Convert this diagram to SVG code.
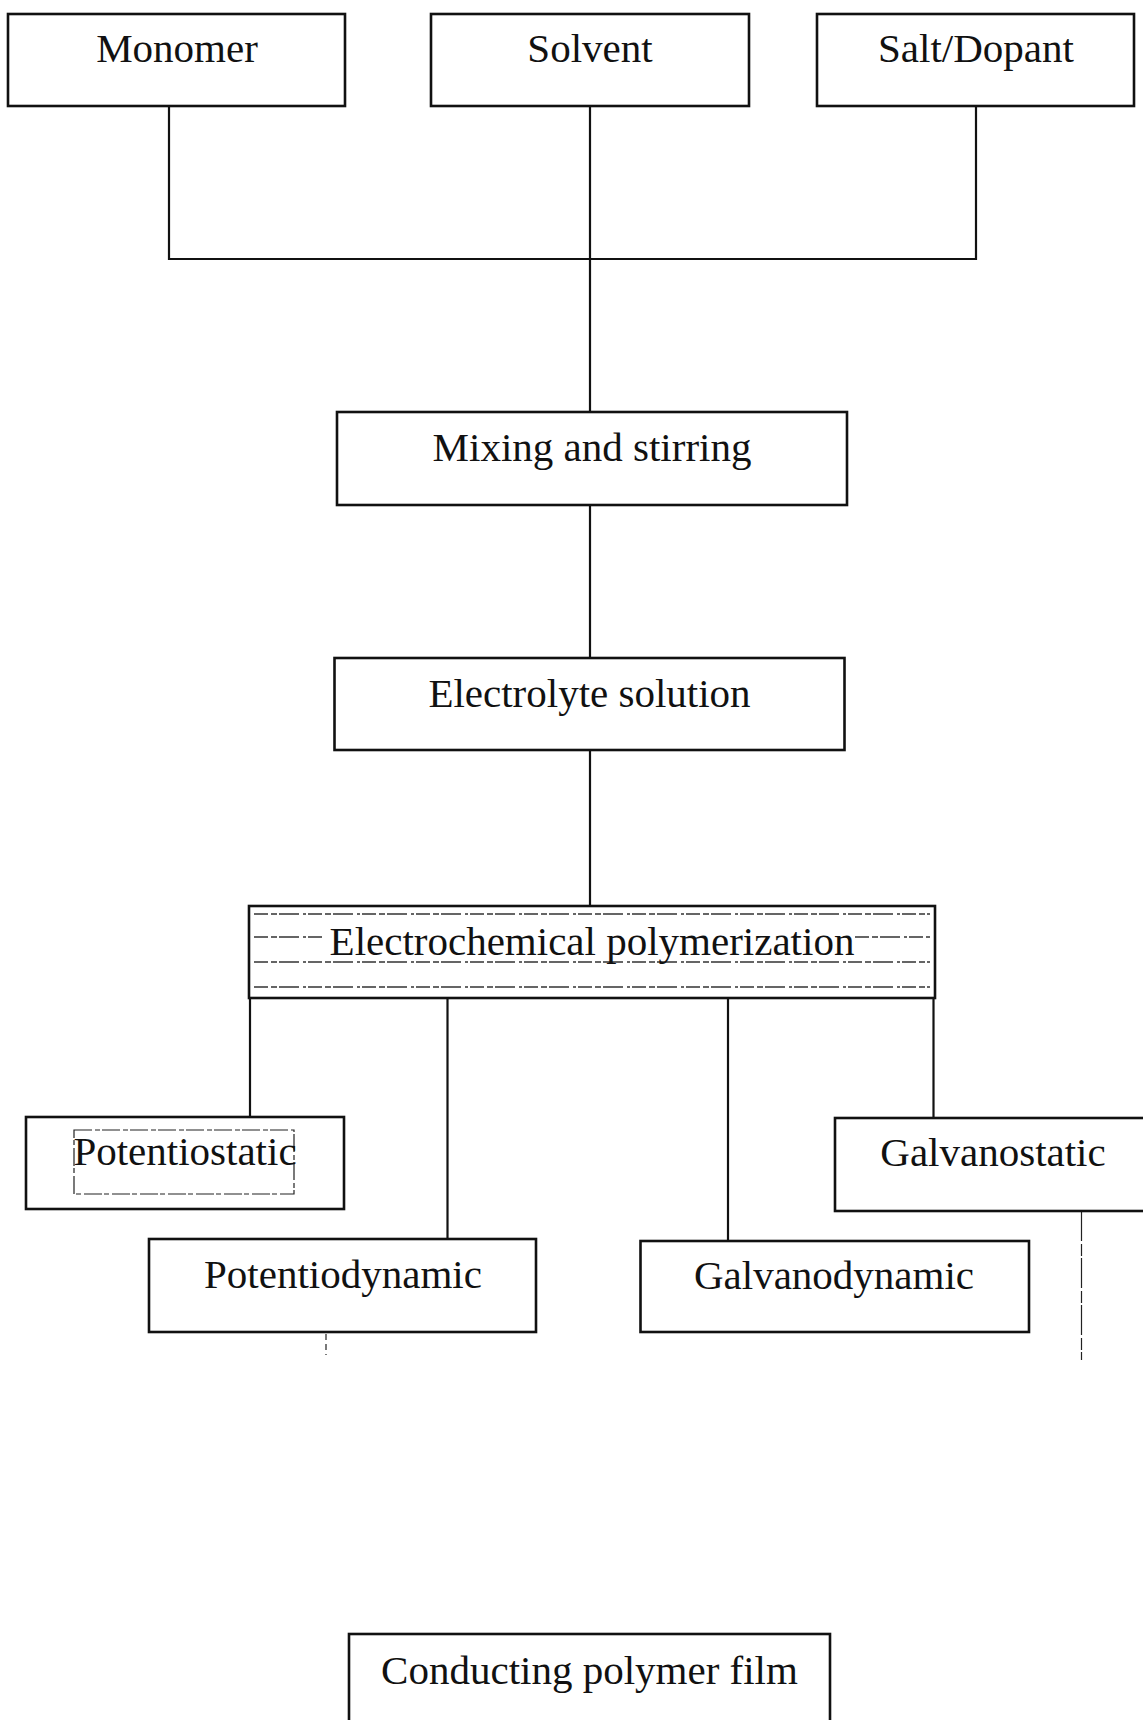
<svg xmlns="http://www.w3.org/2000/svg" width="1143" height="1720" viewBox="0 0 1143 1720">
<style>
.box{fill:#fff;stroke:#111;stroke-width:2.6}
.lbl{font-family:"Liberation Serif","Times New Roman",serif;font-size:41px;fill:#111;text-anchor:middle}
.wire{fill:none;stroke:#111;stroke-width:2.2}
.faint{fill:none;stroke:#222;stroke-width:1.2}
.noise{fill:none;stroke:#333;stroke-width:1.6;stroke-dasharray:14 3 6 2 20 4 3 2}
</style>
<rect width="1143" height="1720" fill="#fff"/>
<g id="connectors">
<path class="wire" d="M169,106 V259 H976 V106"/>
<path class="wire" d="M590,106 V412"/>
<path class="wire" d="M590,505 V658"/>
<path class="wire" d="M590,750 V906"/>
<path class="wire" d="M250,998 V1117"/>
<path class="wire" d="M447.5,998 V1239"/>
<path class="wire" d="M728,998 V1241"/>
<path class="wire" d="M933.5,998 V1118"/>
<path class="faint" d="M326,1334 V1355" stroke-dasharray="6 4"/>
<path class="faint" d="M1081.5,1211 V1360" stroke-dasharray="30 3 12 2"/>
</g>
<g id="monomer"><rect class="box" x="8" y="14" width="337" height="92"/><text class="lbl" x="177" y="62">Monomer</text></g>
<g id="solvent"><rect class="box" x="431" y="14" width="318" height="92"/><text class="lbl" x="590" y="62">Solvent</text></g>
<g id="salt"><rect class="box" x="817" y="14" width="317" height="92"/><text class="lbl" x="976" y="62">Salt/Dopant</text></g>
<g id="mixing"><rect class="box" x="337" y="412" width="510" height="93"/><text class="lbl" x="592" y="461">Mixing and stirring</text></g>
<g id="electrolyte"><rect class="box" x="334.5" y="658" width="510" height="92"/><text class="lbl" x="589.5" y="707">Electrolyte solution</text></g>
<g id="electrochemical"><rect class="box" x="249" y="906" width="686" height="92"/>
<path class="noise" d="M254,914 H930 M254,937 H325 M855,937 H930 M254,962 H930 M254,987 H930"/>
<text class="lbl" x="592" y="955">Electrochemical polymerization</text></g>
<g id="potentiostatic"><rect class="box" x="26" y="1117" width="318" height="92"/><rect class="faint" x="74" y="1130" width="220" height="64" stroke-dasharray="18 3 5 2"/><text class="lbl" x="185" y="1165">Potentiostatic</text></g>
<g id="galvanostatic"><rect class="box" x="835" y="1118" width="312" height="93"/><text class="lbl" x="993" y="1166">Galvanostatic</text></g>
<g id="potentiodynamic"><rect class="box" x="149" y="1239" width="387" height="93"/><text class="lbl" x="343" y="1288">Potentiodynamic</text></g>
<g id="galvanodynamic"><rect class="box" x="640.5" y="1241" width="388.5" height="91"/><text class="lbl" x="834" y="1289">Galvanodynamic</text></g>
<g id="film"><rect class="box" x="349" y="1634" width="481" height="90"/><text class="lbl" x="589.5" y="1684">Conducting polymer film</text></g>
</svg>
